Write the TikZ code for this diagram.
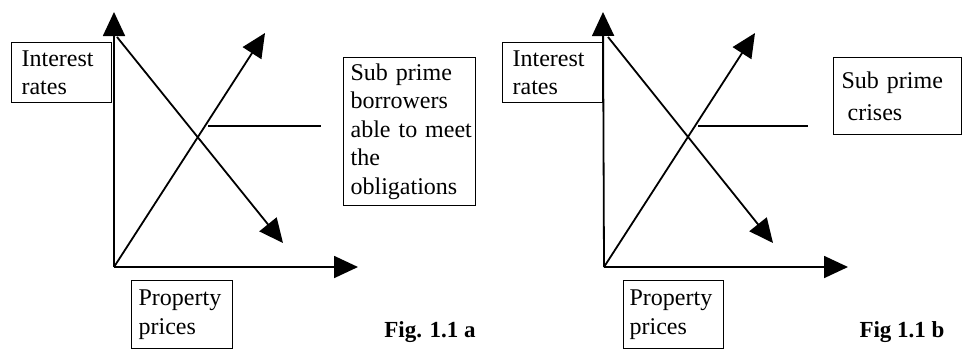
\documentclass[tikz,border=0pt]{standalone}
\usepackage{fontspec}
\setmainfont{Liberation Serif}
\usetikzlibrary{arrows.meta}
\tikzset{
    lbl/.style={draw, line width=1.2pt, align=left, anchor=north west,
        inner ysep=2pt, font=\fontsize{24}{28.4}\selectfont},
    arr/.style={line width=1.8pt, -{Triangle[length=24pt,width=22pt]}},
    figlbl/.style={font=\bfseries\fontsize{23}{27}\selectfont},
}
\begin{document}
\begin{tikzpicture}[x=1pt, y=-1pt]
    \useasboundingbox (0,0) rectangle (963,349);

    % Fig. 1.1 a
    \coordinate (oA) at (114,267);
    \coordinate (yA) at (114,12);
    \coordinate (xA) at (358,267);
    \coordinate (upA) at (265,33);
    \coordinate (topA) at (117,37);
    \coordinate (downA) at (283,243);
    \coordinate (hsA) at (208,126);
    \coordinate (heA) at (321,126);
    \draw[arr] (oA) -- (yA);
    \draw[arr] (oA) -- (xA);
    \draw[arr] (oA) -- (upA);
    \draw[arr] (topA) -- (downA);
    \draw[line width=1.4pt] (hsA) -- (heA);

    \node[lbl, text width=80pt, inner xsep=10pt, minimum height=60pt] (ratesA) at (11,42) {Interest\\rates};
    \node[lbl, text width=126pt, inner xsep=3pt, minimum height=148pt] (subA) at (343,57)
        {\hspace{4pt}Sub prime\\\hspace{4pt}borrowers\\\hspace{4pt}able to meet\\\hspace{4pt}the\\\hspace{4pt}obligations};
    \node[lbl, text width=87pt, inner xsep=7pt, minimum height=68pt] (propA) at (131,280) {Property\\prices};
    \node[figlbl] (figA) at (430,332) {Fig. 1.1 a};

    % Fig 1.1 b
    \coordinate (oB) at (604,267);
    \coordinate (yB) at (603,12);
    \coordinate (xB) at (848,267);
    \coordinate (upB) at (755,33);
    \coordinate (topB) at (608,37);
    \coordinate (downB) at (773,243);
    \coordinate (hsB) at (698,126);
    \coordinate (heB) at (808,126);
    \draw[arr] (oB) -- (yB);
    \draw[arr] (oB) -- (xB);
    \draw[arr] (oB) -- (upB);
    \draw[arr] (topB) -- (downB);
    \draw[line width=1.4pt] (hsB) -- (heB);

    \node[lbl, text width=80pt, inner xsep=10pt, minimum height=60pt] (ratesB) at (502,42) {Interest\\rates};
    \node[lbl, text width=112pt, inner xsep=8pt, minimum height=77pt] (subB) at (833,57)
        {Sub prime\\[4pt]\hspace{0.25em}crises};
    \node[lbl, text width=88pt, inner xsep=6pt, minimum height=68pt] (propB) at (623,280) {Property\\prices};
    \node[figlbl] (figB) at (902,332) {Fig 1.1 b};
\end{tikzpicture}
\end{document}
